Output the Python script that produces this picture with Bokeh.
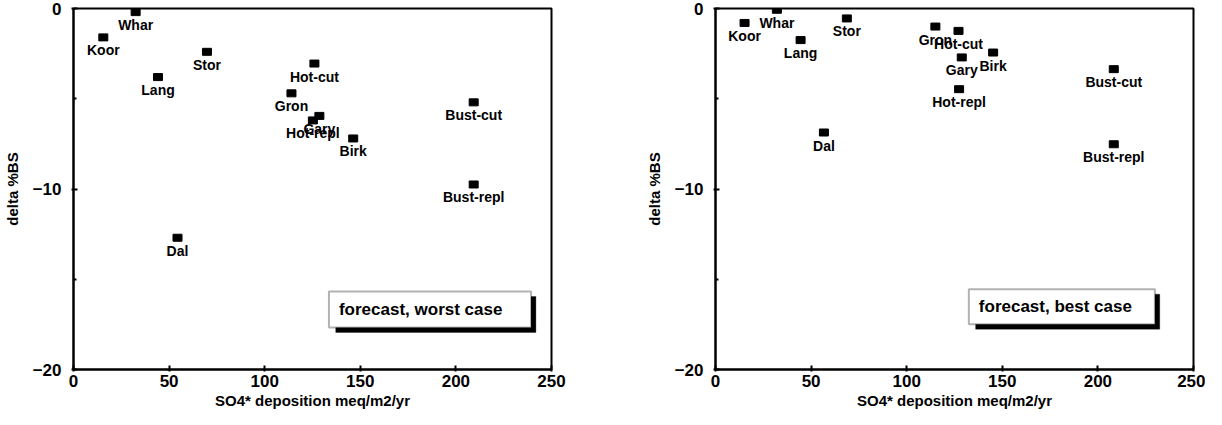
from bokeh.plotting import figure
from bokeh.models import Range1d, FixedTicker, BoxAnnotation, Label, ColumnDataSource
from bokeh.layouts import row
from bokeh.core.properties import value
from bokeh.embed import file_html
from bokeh.resources import INLINE

# ---- data ----
site_names = ["Koor", "Whar", "Lang", "Stor", "Dal", "Gron", "Hot-cut",
              "Hot-repl", "Gary", "Birk", "Bust-cut", "Bust-repl"]

# forecast, worst case
worst_so4 = [15.6, 32.5, 44.2, 69.8, 54.4, 114.0, 126.0, 125.2, 128.6, 146.3, 209.3, 209.3]
worst_dbs = [-1.6, -0.2, -3.8, -2.4, -12.7, -4.7, -3.05, -6.2, -5.95, -7.2, -5.2, -9.75]

# forecast, best case
best_so4 = [15.2, 32.1, 44.5, 68.7, 56.7, 115.0, 127.1, 127.4, 128.8, 145.2, 208.3, 208.3]
best_dbs = [-0.8, -0.07, -1.75, -0.55, -6.87, -1.0, -1.24, -4.47, -2.71, -2.44, -3.36, -7.52]

x_ticks = [0, 50, 100, 150, 200, 250]
y_ticks = [-20, -10, 0]
y_minor = [-15, -5]

FONT = value("Liberation Sans")


def make_panel(xs, ys, caption, box, width, border_right):
    p = figure(width=width, height=414,
               x_range=Range1d(0, 250), y_range=Range1d(-20, 0),
               output_backend="svg", toolbar_location=None,
               min_border_left=59, min_border_right=border_right,
               min_border_top=8, min_border_bottom=45)
    p.background_fill_color = "white"
    p.border_fill_color = "white"
    p.outline_line_color = "black"
    p.outline_line_width = 2
    p.xgrid.visible = False
    p.ygrid.visible = False

    p.xaxis.ticker = FixedTicker(ticks=x_ticks)
    p.yaxis.ticker = FixedTicker(ticks=y_ticks, minor_ticks=y_minor)
    for ax in (p.xaxis, p.yaxis):
        ax.axis_line_width = 2
        ax.axis_line_color = "black"
        ax.major_tick_line_width = 2
        ax.major_tick_line_color = "black"
        ax.minor_tick_line_width = 2
        ax.minor_tick_line_color = "black"
        ax.major_tick_in = 4
        ax.major_tick_out = 2
        ax.minor_tick_in = 3
        ax.minor_tick_out = 0
        ax.major_label_text_font = "Liberation Sans"
        ax.major_label_text_font_style = "bold"
        ax.major_label_text_font_size = "17px"
        ax.major_label_text_color = "black"
        ax.axis_label_text_font = "Liberation Sans"
        ax.axis_label_text_font_style = "bold"
        ax.axis_label_text_font_size = "15px"
        ax.axis_label_text_color = "black"
    p.xaxis.major_label_standoff = 3
    p.xaxis.axis_label_standoff = 2
    p.yaxis.major_label_standoff = 10
    p.yaxis.axis_label_standoff = 9
    p.xaxis.axis_label = "SO4* deposition meq/m2/yr"
    p.yaxis.axis_label = "delta %BS"

    src = ColumnDataSource(dict(x=xs, y=ys, name=site_names))
    p.rect(x="x", y="y", width=9, height=7, width_units="screen",
           height_units="screen", source=src, fill_color="black",
           line_color="black")
    p.text(x="x", y="y", text="name", source=src, text_align="center",
           text_baseline="middle", y_offset=13, text_font=FONT,
           text_font_style="bold", text_font_size="14px", text_color="black")

    left, right, top, bottom = box
    dx = 5 / 1.968
    dy = 5 / 18.05
    shadow = BoxAnnotation(left=left + 1.4 * dx, right=right + dx,
                           top=top - dy, bottom=bottom - dy,
                           fill_color="black", fill_alpha=1.0,
                           line_color="black", line_width=1)
    frame = BoxAnnotation(left=left, right=right, top=top, bottom=bottom,
                          fill_color="white", fill_alpha=1.0,
                          line_color="black", line_width=2)
    p.add_layout(shadow)
    p.add_layout(frame)
    p.add_layout(Label(x=left, y=(top + bottom) / 2, x_offset=10,
                       text=caption, text_baseline="middle",
                       text_align="left", text_font="Liberation Sans",
                       text_font_style="bold", text_font_size="17px",
                       text_color="black"))
    return p


p1 = make_panel(worst_so4, worst_dbs, "forecast,  worst case",
                (133.6, 239.3, -15.68, -17.67), 642, 91)
p2 = make_panel(best_so4, best_dbs, "forecast,  best case",
                (132.5, 229.8, -15.55, -17.49), 563, 12)

layout = row(p1, p2)
open("out.html", "w").write(file_html(layout, INLINE))
